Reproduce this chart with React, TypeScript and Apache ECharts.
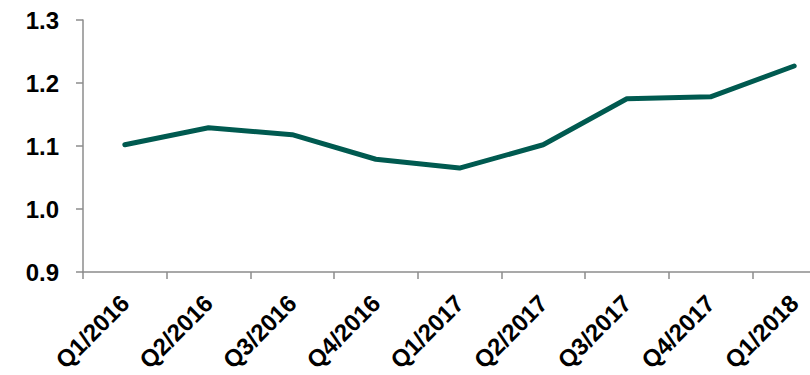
import React, { useEffect, useRef } from "react";
import * as echarts from "echarts";

const categories = ["Q1/2016", "Q2/2016", "Q3/2016", "Q4/2016", "Q1/2017", "Q2/2017", "Q3/2017", "Q4/2017", "Q1/2018"];
const values = [1.102, 1.129, 1.118, 1.079, 1.065, 1.102, 1.175, 1.178, 1.227];
const yTicks = { min: 0.9, max: 1.3, interval: 0.1 };

export default function App() {
  const ref = useRef<HTMLDivElement>(null);
  useEffect(() => {
    if (!ref.current) return;
    const chart = echarts.init(ref.current, null, { renderer: "svg" });
    chart.setOption({
      animation: false,
      grid: { left: 83, top: 20, bottom: 103, right: 4, containLabel: false, outerBoundsMode: "none" },
      xAxis: {
        type: "category",
        data: categories,
        boundaryGap: true,
        axisLine: { lineStyle: { color: "#8c8c8c", width: 1.5 } },
        axisTick: { show: true, length: 7, alignWithLabel: false, lineStyle: { color: "#8c8c8c", width: 1.5 } },
        axisLabel: {
          interval: 0,
          rotate: 45,
          margin: 27,
          color: "#000",
          fontFamily: "Liberation Sans, Arial, sans-serif",
          fontWeight: "bold",
          fontSize: 24,
        },
        splitLine: { show: false },
      },
      yAxis: {
        type: "value",
        min: yTicks.min,
        max: yTicks.max,
        interval: yTicks.interval,
        axisLine: { show: true, lineStyle: { color: "#8c8c8c", width: 1.5 } },
        axisTick: { show: true, length: 7, lineStyle: { color: "#8c8c8c", width: 1.5 } },
        splitLine: { show: false },
        axisLabel: {
          margin: 24,
          color: "#000",
          fontFamily: "Liberation Sans, Arial, sans-serif",
          fontWeight: "bold",
          fontSize: 24,
          formatter: (v: number) => v.toFixed(1),
        },
      },
      series: [
        {
          type: "line",
          data: values,
          symbol: "none",
          lineStyle: { color: "#005a50", width: 5, cap: "round", join: "round" },
        },
      ],
    });
    return () => chart.dispose();
  }, []);
  return (
    <div style={{ width: 810, height: 375, position: "absolute", left: 0, top: 0, overflow: "hidden" }}>
      <div ref={ref} style={{ width: 840, height: 375 }} />
    </div>
  );
}
